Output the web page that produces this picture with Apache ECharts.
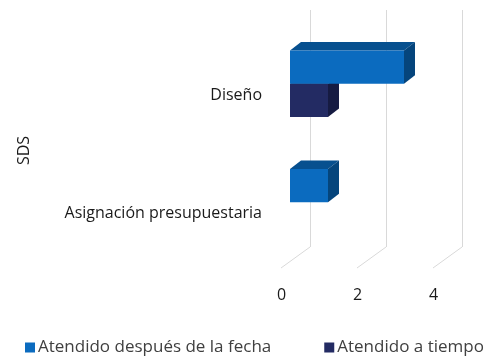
<!DOCTYPE html>
<html><head><meta charset="utf-8">
<script src="https://cdn.jsdelivr.net/npm/echarts@6/dist/echarts.min.js"></script>
<style>html,body{margin:0;padding:0;background:#fff}#c{width:493px;height:358px}</style>
</head><body><div id="c"></div>
<script>
const categories = ['Asignación presupuestaria', 'Diseño'];
const lateValues = [1, 3];
const onTimeValues = [0, 1];
const xTicks = [0, 2, 4];
const seriesNames = ['Atendido después de la fecha', 'Atendido a tiempo'];

const FONT = 'Open Sans';
const FRONT_DX = -20, FRONT_DY = 14.5;
const DEPTH_DX = 11, DEPTH_DY = -8.5;

function shade(k) {
  return k === 0
    ? { front: '#0b6bbf', top: '#07508f', side: '#05457c' }
    : { front: '#232b63', top: '#1a2150', side: '#161b42' };
}

function barRender(k) {
  return function (params, api) {
    const val = api.value(0), cat = api.value(1);
    if (!val) return null;
    const p0 = api.coord([0, cat]);
    const p1 = api.coord([val, cat]);
    const band = api.size([0, 1])[1];
    const h = band * 0.28;
    const top = p0[1] - h + k * h;
    const x0 = p0[0] + FRONT_DX, x1 = p1[0] + FRONT_DX;
    const y0 = top + FRONT_DY, y1 = y0 + h;
    const c = shade(k);
    return {
      type: 'group',
      children: [
        { type: 'polygon', shape: { points: [[x0, y0], [x1, y0], [x1 + DEPTH_DX, y0 + DEPTH_DY], [x0 + DEPTH_DX, y0 + DEPTH_DY]] }, style: { fill: c.top } },
        { type: 'polygon', shape: { points: [[x1, y0], [x1 + DEPTH_DX, y0 + DEPTH_DY], [x1 + DEPTH_DX, y1 + DEPTH_DY], [x1, y1]] }, style: { fill: c.side } },
        { type: 'rect', shape: { x: x0, y: y0, width: x1 - x0, height: y1 - y0 }, style: { fill: c.front } }
      ]
    };
  };
}

const chart = echarts.init(document.getElementById('c'));
chart.setOption({
  animation: false,
  grid: { left: 310, right: 31, top: 10, bottom: 111 },
  legend: {
    data: seriesNames,
    top: 334, left: 20,
    itemWidth: 10, itemHeight: 10, itemGap: 53,
    icon: 'rect',
    textStyle: { fontFamily: FONT, fontSize: 17, color: '#404040', padding: [0, 0, 0, -2] }
  },
  xAxis: {
    type: 'value', min: 0, max: 4, interval: 2,
    axisLine: { show: false }, axisTick: { show: false },
    splitLine: { show: true, lineStyle: { color: '#d9d9d9', width: 1 } },
    axisLabel: { fontFamily: FONT, fontSize: 16, color: '#1a1a1a', margin: 40, padding: [0, 57, 0, 0] }
  },
  yAxis: {
    type: 'category', data: categories,
    name: 'SDS', nameLocation: 'middle', nameGap: 278,
    nameTextStyle: { fontFamily: FONT, fontSize: 16, color: '#1a1a1a', padding: [0, 44, 0, 0] },
    axisLine: { show: false }, axisTick: { show: false },
    axisLabel: { fontFamily: FONT, fontSize: 16, color: '#1a1a1a', margin: 48, verticalAlign: 'top', padding: [18, 0, 0, 0] }
  },
  series: [
    {
      name: 'floor', type: 'custom', silent: true, z: 1,
      data: xTicks.map(v => [v, 0]),
      renderItem: function (params, api) {
        const p = api.coord([api.value(0), 0]);
        const bottom = params.coordSys.y + params.coordSys.height;
        return { type: 'line', shape: { x1: p[0], y1: bottom, x2: p[0] - 29, y2: bottom + 21 }, style: { stroke: '#d9d9d9', lineWidth: 1 } };
      }
    },
    {
      name: seriesNames[1], type: 'custom', z: 2,
      itemStyle: { color: '#232b63' },
      data: onTimeValues.map((v, i) => [v, i]),
      encode: { x: 0, y: 1 },
      renderItem: barRender(1)
    },
    {
      name: seriesNames[0], type: 'custom', z: 3,
      itemStyle: { color: '#0b6bbf' },
      data: lateValues.map((v, i) => [v, i]),
      encode: { x: 0, y: 1 },
      renderItem: barRender(0)
    }
  ]
});
</script></body></html>
